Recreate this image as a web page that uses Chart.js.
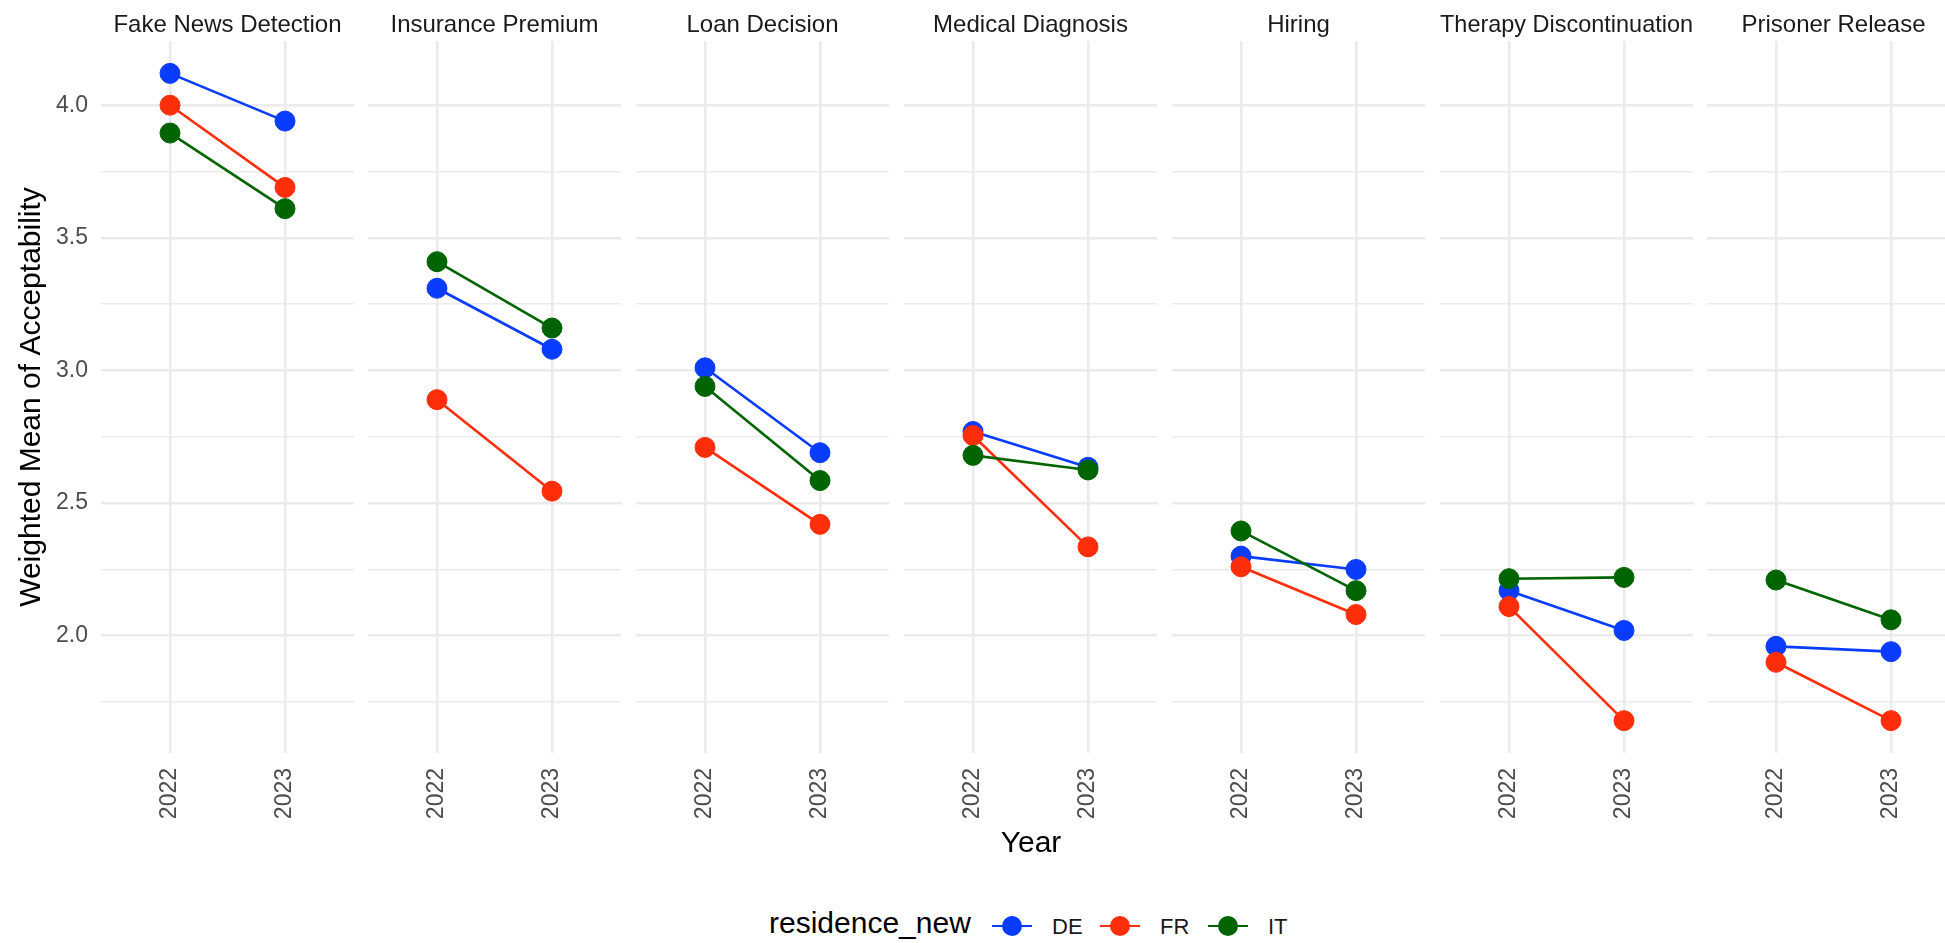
<!DOCTYPE html>
<html>
<head>
<meta charset="utf-8">
<script src="https://cdn.jsdelivr.net/npm/chart.js@4.4.1/dist/chart.umd.min.js"></script>
<style>
  body { margin: 0; width: 1945px; height: 943px; overflow: hidden; background: #fff; position: relative; font-family: "Liberation Sans", Arial, Helvetica, sans-serif; }
  #panels canvas { position: absolute; top: 0; }
  #xTitle { position: absolute; top: 824px; left: 931px; width: 200px; height: 36px; line-height: 36px; text-align: center; font-size: 30px; color: #000; }
  #legend { position: absolute; top: 909px; left: 0; width: 1945px; height: 34px; }
  #legend div { position: absolute; top: 0; height: 34px; line-height: 34px; white-space: nowrap; }
  .legTitle { font-size: 30px; color: #000; }
  .legLabel { font-size: 22px; color: #1a1a1a; }
  .legKey { width: 40px; }
  .legKey span { position: absolute; }
</style>
</head>
<body>
<div id="panels"></div>
<div id="xTitle">Year</div>
<div id="legend"></div>
<script>
const categories = ["Fake News Detection", "Insurance Premium", "Loan Decision", "Medical Diagnosis", "Hiring", "Therapy Discontinuation", "Prisoner Release"];
const years = [2022, 2023];
const countries = ["DE", "FR", "IT"];
const countryColors = ["#0a3cff", "#ff2e0a", "#006400"];

// weighted mean per task, one array per country and year
const de2022 = [4.12, 3.31, 3.01, 2.77, 2.3, 2.17, 1.96];
const de2023 = [3.94, 3.08, 2.69, 2.635, 2.25, 2.02, 1.94];
const fr2022 = [4.0, 2.89, 2.71, 2.755, 2.26, 2.11, 1.9];
const fr2023 = [3.69, 2.545, 2.42, 2.335, 2.08, 1.68, 1.68];
const it2022 = [3.895, 3.41, 2.94, 2.68, 2.395, 2.215, 2.21];
const it2023 = [3.61, 3.16, 2.585, 2.625, 2.17, 2.22, 2.06];

const yRange = [1.558, 4.242];
const yTicks = [1.75, 2.0, 2.25, 2.5, 2.75, 3.0, 3.25, 3.5, 3.75, 4.0];

const countryValues = [
  [de2022, de2023],
  [fr2022, fr2023],
  [it2022, it2023],
];

const panelLayout = {
  left: 100.5,
  pitch: 267.8,
  width: 253,
  top: 41,
  bottom: 753,
  height: 830,
};

const gridColor = "#ebebeb";
const tickColor = "#4d4d4d";

Chart.defaults.font.family = '"Liberation Sans", Arial, Helvetica, sans-serif';

function isMajor(value) {
  return Math.abs(value * 2 - Math.round(value * 2)) < 1e-6;
}

function createPanel(index) {
  const first = index === 0;
  const left = Math.round(panelLayout.left + index * panelLayout.pitch);
  const axisWidth = first ? left : 0;
  const canvas = document.createElement("canvas");
  canvas.width = panelLayout.width + axisWidth;
  canvas.height = panelLayout.height;
  canvas.style.left = left - axisWidth + "px";
  document.getElementById("panels").appendChild(canvas);

  const datasets = countries.map((country, c) => ({
    label: country,
    data: years.map((year, y) => ({ x: year, y: countryValues[c][y][index] })),
    xAxisID: "x",
    yAxisID: "y",
    borderColor: countryColors[c],
    backgroundColor: countryColors[c],
    borderWidth: 2.6,
    pointRadius: 10,
    pointHoverRadius: 10,
    pointBorderWidth: 1,
    pointBorderColor: countryColors[c],
    order: countries.length - c,
  }));

  return new Chart(canvas, {
    type: "line",
    data: { datasets },
    options: {
      responsive: false,
      animation: false,
      events: [],
      layout: { padding: 0, autoPadding: false },
      plugins: {
        legend: { display: false },
        tooltip: { enabled: false },
      },
      scales: {
        x: {
          type: "linear",
          position: "bottom",
          min: years[0] - 0.6,
          max: years[1] + 0.6,
          afterBuildTicks: (axis) => {
            axis.ticks = years.map((v) => ({ value: v }));
          },
          afterFit: (axis) => {
            axis.height = panelLayout.height - panelLayout.bottom;
          },
          grid: { color: gridColor, lineWidth: 2.6, drawTicks: false },
          border: { display: false },
          ticks: {
            minRotation: 90,
            maxRotation: 90,
            autoSkip: false,
            padding: 15,
            color: tickColor,
            font: { size: 23 },
            callback: (v) => String(v),
          },
        },
        strip: {
          type: "linear",
          position: "top",
          min: years[0] - 0.6,
          max: years[1] + 0.6,
          afterFit: (axis) => {
            axis.height = panelLayout.top;
          },
          grid: { display: false, drawTicks: false },
          border: { display: false },
          ticks: { display: false },
          title: {
            display: true,
            text: categories[index],
            color: "#1a1a1a",
            font: { size: 24 },
            padding: { top: 10.6, bottom: 0 },
          },
        },
        y: {
          type: "linear",
          position: "left",
          min: yRange[0],
          max: yRange[1],
          afterBuildTicks: (axis) => {
            axis.ticks = yTicks.map((v) => ({ value: v }));
          },
          afterFit: (axis) => {
            axis.width = axisWidth;
          },
          grid: {
            color: gridColor,
            lineWidth: (ctx) => (ctx.tick && !isMajor(ctx.tick.value) ? 1.4 : 2.6),
            drawTicks: false,
          },
          border: { display: false },
          ticks: {
            display: first,
            padding: 13,
            color: tickColor,
            font: { size: 23 },
            callback: (v) => (isMajor(v) ? v.toFixed(1) : ""),
          },
          title: {
            display: first,
            text: "Weighted Mean of Acceptability",
            color: "#000",
            font: { size: 30 },
            padding: { top: 14, bottom: 0 },
          },
        },
      },
    },
  });
}

function createLegend() {
  const legend = document.getElementById("legend");
  const title = document.createElement("div");
  title.className = "legTitle";
  title.style.left = "769px";
  title.style.top = "-3px";
  title.textContent = "residence_new";
  legend.appendChild(title);
  countries.forEach((country, c) => {
    const center = 1012 + c * 108;
    const key = document.createElement("div");
    key.className = "legKey";
    key.style.left = center - 20 + "px";
    key.innerHTML =
      `<span style="left:0;top:16px;width:40px;height:2px;background:${countryColors[c]}"></span>` +
      `<span style="left:10px;top:7px;width:20px;height:20px;border-radius:50%;background:${countryColors[c]}"></span>`;
    legend.appendChild(key);
    const label = document.createElement("div");
    label.className = "legLabel";
    label.style.left = center + 40 + "px";
    label.style.top = "1px";
    label.textContent = country;
    legend.appendChild(label);
  });
}

categories.forEach((name, i) => createPanel(i));
createLegend();
</script>
</body>
</html>
